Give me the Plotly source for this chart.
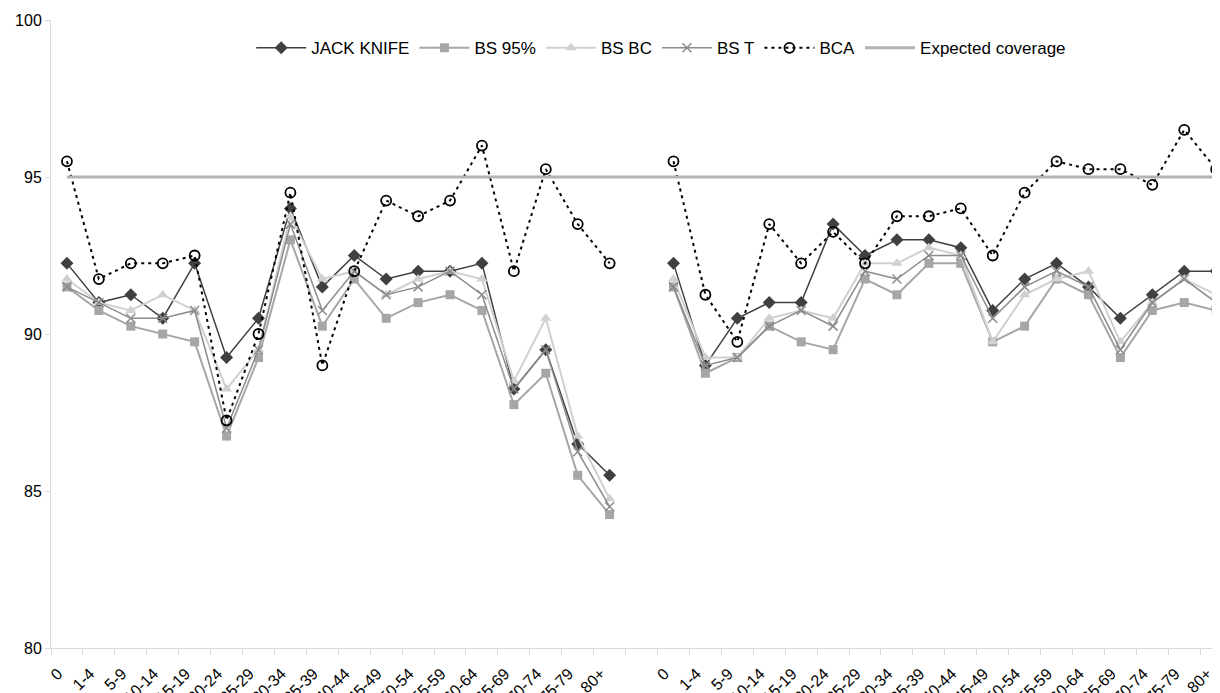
import plotly.graph_objects as go

AGES = ["0", "1-4", "5-9", "10-14", "15-19", "20-24", "25-29", "30-34", "35-39",
        "40-44", "45-49", "50-54", "55-59", "60-64", "65-69", "70-74", "75-79", "80+"]

# group 1 (left panel)
JK_1 = [92.25, 91.0, 91.25, 90.5, 92.25, 89.25, 90.5, 94.0, 91.5, 92.5, 91.75, 92.0, 92.0, 92.25, 88.25, 89.5, 86.5, 85.5]
BS95_1 = [91.5, 90.75, 90.25, 90.0, 89.75, 86.75, 89.25, 93.0, 90.25, 91.75, 90.5, 91.0, 91.25, 90.75, 87.75, 88.75, 85.5, 84.25]
BSBC_1 = [91.75, 91.0, 90.75, 91.25, 90.75, 88.25, 89.5, 93.75, 91.75, 92.0, 91.25, 91.75, 92.0, 91.75, 88.5, 90.5, 86.75, 84.75]
BST_1 = [91.5, 91.0, 90.5, 90.5, 90.75, 87.0, 89.5, 93.5, 90.75, 92.0, 91.25, 91.5, 92.0, 91.25, 88.25, 89.5, 86.25, 84.5]
BCA_1 = [95.5, 91.75, 92.25, 92.25, 92.5, 87.25, 90.0, 94.5, 89.0, 92.0, 94.25, 93.75, 94.25, 96.0, 92.0, 95.25, 93.5, 92.25]

# group 2 (right panel)
JK_2 = [92.25, 89.0, 90.5, 91.0, 91.0, 93.5, 92.5, 93.0, 93.0, 92.75, 90.75, 91.75, 92.25, 91.5, 90.5, 91.25, 92.0, 92.0]
BS95_2 = [91.5, 88.75, 89.25, 90.25, 89.75, 89.5, 91.75, 91.25, 92.25, 92.25, 89.75, 90.25, 91.75, 91.25, 89.25, 90.75, 91.0, 90.75]
BSBC_2 = [91.75, 89.25, 89.25, 90.5, 90.75, 90.5, 92.25, 92.25, 92.75, 92.5, 89.75, 91.25, 91.75, 92.0, 89.75, 91.0, 91.75, 91.25]
BST_2 = [91.5, 89.0, 89.25, 90.25, 90.75, 90.25, 92.0, 91.75, 92.5, 92.5, 90.5, 91.5, 92.0, 91.5, 89.5, 91.0, 91.75, 91.0]
BCA_2 = [95.5, 91.25, 89.75, 93.5, 92.25, 93.25, 92.25, 93.75, 93.75, 94.0, 92.5, 94.5, 95.5, 95.25, 95.25, 94.75, 96.5, 95.25]

EXPECTED = 95

# category layout: group 1, one blank slot, group 2
labels = AGES + [""] + AGES
xs = list(range(len(labels)))


def join(a, b):
    return a + [None] + b


FONT = "Liberation Sans, Arial, sans-serif"

series = [
    ("JACK KNIFE", join(JK_1, JK_2), dict(color="#404040", width=1.5), dict(symbol="diamond", size=10, color="#404040")),
    ("BS 95%", join(BS95_1, BS95_2), dict(color="#a6a6a6", width=2), dict(symbol="square", size=9, color="#a6a6a6")),
    ("BS BC", join(BSBC_1, BSBC_2), dict(color="#d0d0d0", width=2), dict(symbol="triangle-up", size=10, color="#d0d0d0")),
    ("BS T", join(BST_1, BST_2), dict(color="#8c8c8c", width=1.5), dict(symbol="x-thin-open", size=9, color="#8c8c8c", line=dict(width=1.5, color="#8c8c8c"))),
    ("BCA", join(BCA_1, BCA_2), dict(color="#000000", width=2, dash="3px,4px"), dict(symbol="circle-open", size=10, color="#000000", line=dict(width=1.8, color="#000000"))),
]

fig = go.Figure()
for name, ys, line, marker in series:
    fig.add_trace(go.Scatter(x=xs, y=ys, name=name, mode="lines+markers", line=line,
                             marker=marker, connectgaps=False))

fig.add_trace(go.Scatter(x=xs, y=[EXPECTED] * len(xs), name="Expected coverage", mode="lines",
                         line=dict(color="#b3b3b3", width=3)))

# page body has an 8px margin, so the figure is sized to end at the window edge
fig.update_layout(
    width=1212, height=685,
    margin=dict(l=43, r=0, t=12, b=45),
    paper_bgcolor="white", plot_bgcolor="white",
    font=dict(family=FONT, size=16, color="#000000"),
    showlegend=True,
    legend=dict(orientation="h", x=0.522, y=0.955, xanchor="center", yanchor="middle",
                font=dict(size=17, family=FONT), bgcolor="rgba(0,0,0,0)", itemwidth=50,
                tracegroupgap=0),
)

fig.update_xaxes(
    range=[-0.5, 36.12], tickmode="array", tickvals=xs, ticktext=labels, tickangle=-45,
    ticks="", showline=True, linecolor="#d9d9d9", linewidth=1, showgrid=False, zeroline=False,
    tickfont=dict(size=16, family=FONT, color="#000000"),
    minor=dict(tickmode="array", tickvals=[i - 0.5 for i in range(len(labels) + 1)],
               ticks="outside", ticklen=6, tickcolor="#d9d9d9", tickwidth=1, showgrid=False),
    ticklabelshift=-9, ticklabelstandoff=9, automargin=False,
)
fig.update_yaxes(
    range=[80, 100], tickvals=[80, 85, 90, 95, 100], ticks="outside", ticklen=5,
    tickcolor="#d9d9d9", showline=True, linecolor="#d9d9d9", linewidth=1, showgrid=False,
    zeroline=False, tickfont=dict(size=16, family=FONT, color="#000000"), automargin=False,
)

fig.write_html("out.html")
